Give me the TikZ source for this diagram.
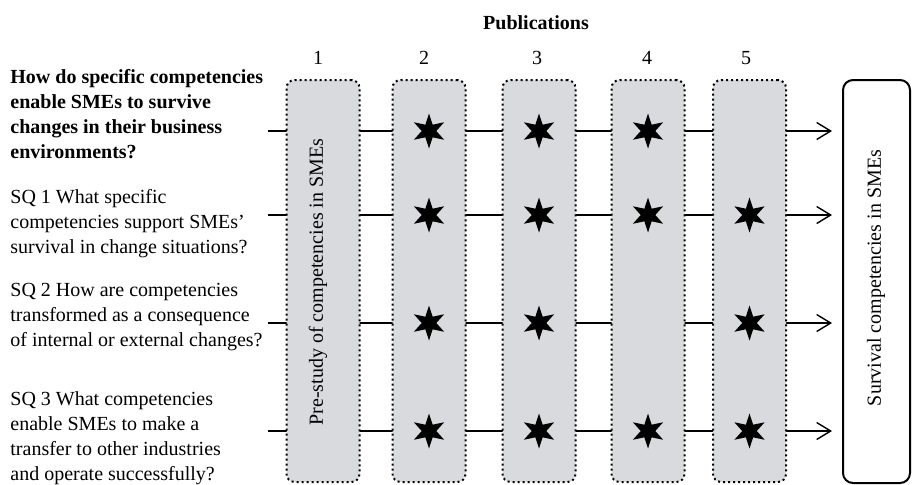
\documentclass[tikz,border=0pt]{standalone}
\usepackage{fontspec}
\setmainfont{Liberation Serif}
\usetikzlibrary{shapes.geometric,arrows.meta,positioning,backgrounds}
\definecolor{pubgrey}{RGB}{217,218,221}
\tikzset{
	pubcol/.style={draw, fill=pubgrey, rounded corners=4pt, line width=1pt, dash pattern=on 1pt off 1.5pt, minimum width=36.5pt, minimum height=201pt, inner sep=0pt},
	resbox/.style={draw, rounded corners=5pt, line width=1pt, minimum width=33.5pt, minimum height=201.5pt, inner sep=0pt},
	rq/.style={anchor=west, align=left, inner sep=0pt, font=\fontsize{10}{12.5}\selectfont},
	hit/.style={star, star points=6, star point ratio=2.4, fill=black, minimum size=17.5pt, inner sep=0pt},
	flow/.style={line width=0.7pt, -{Straight Barb[length=7pt,width=8.5pt]}}
}

\begin{document}
\begin{tikzpicture}[x=0.5pt, y=-0.5pt]
		\useasboundingbox (0,0) rectangle (913,484);
		% rows of the questions
		\foreach \r/\y in {1/131,2/215,3/323,4/431} \coordinate (q\r) at (268,\y);
		% publication columns
		\foreach \c/\x in {1/323,2/429,3/539,4/648,5/749.5} \node[pubcol] (pub\c) at (\x,281) {};
		\node[resbox] (res) at (876.5,281.5) {};
		\begin{scope}[on background layer]
			\foreach \r in {1,...,4} \draw[flow, shorten >=5pt] (q\r) -- (q\r -| res.west);
		\end{scope}
		\foreach \r/\c in {1/2,1/3,1/4,2/2,2/3,2/4,2/5,3/2,3/3,3/5,4/2,4/3,4/4,4/5}
			\node[hit] (hit\r\c) at (pub\c |- q\r) {};
		% labels
		\node[font=\bfseries] (pubs) at (536,23) {Publications};
		\foreach \c/\x in {1/318,2/424,3/537,4/647,5/746} \node (num\c) at (\x,58) {\c};
		\node[rotate=90] (pre) at (318,282) {Pre-study of competencies in SMEs};
		\node[rotate=90] (surv) at (876,278) {Survival competencies in SMEs};
		\node[rq, font=\fontsize{10}{12.5}\selectfont\bfseries] (mainq) at (10,114) {How do specific competencies\\enable SMEs to survive\\changes in their business\\environments?};
		\node[rq] (sq1) at (10,224) {SQ 1 What specific\\competencies support SMEs'\\survival in change situations?};
		\node[rq] (sq2) at (10,317) {SQ 2 How are competencies\\transformed as a consequence\\of internal or external changes?};
		\node[rq] (sq3) at (10,438) {SQ 3 What competencies\\enable SMEs to make a\\transfer to other industries\\and operate successfully?};
\end{tikzpicture}
\end{document}
